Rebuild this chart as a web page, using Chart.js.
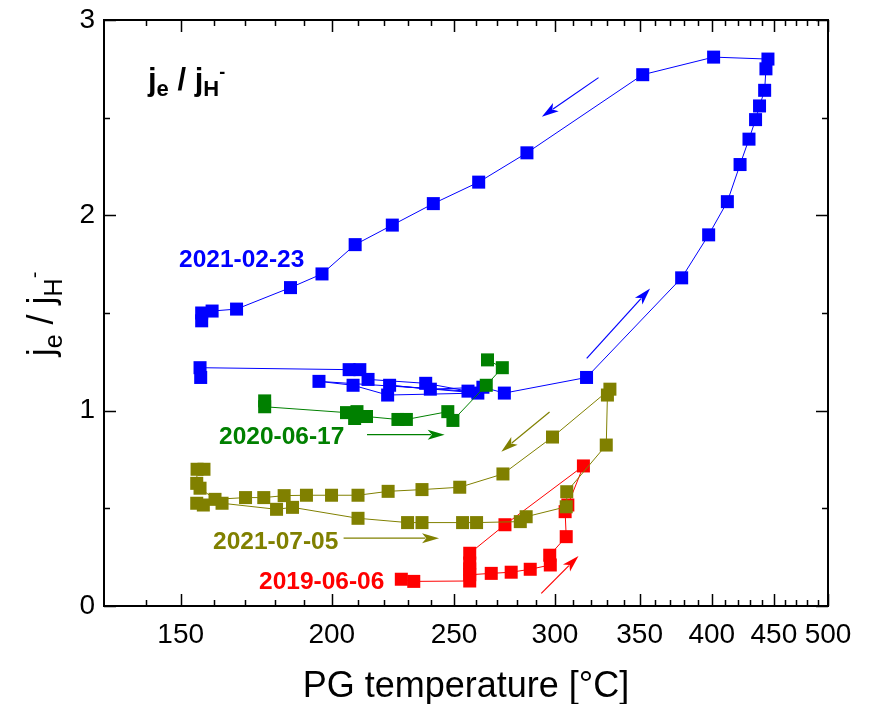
<!DOCTYPE html>
<html>
<head>
<meta charset="utf-8">
<script src="https://cdn.jsdelivr.net/npm/chart.js@4"></script>
<style>
  html, body { margin: 0; padding: 0; background: #fff; }
</style>
</head>
<body>
<canvas id="chart" width="874" height="704"></canvas>
<script>
// series data: PG temperature in °C and j_e / j_H- ratio
const seriesNames = ["2020-06-17", "2021-02-23", "2021-07-05", "2019-06-06"];
const seriesColors = ["#008000", "#0000ff", "#808000", "#ff0000"];

const tempGreen = [176.4, 176.4, 205.5, 209.5, 208.6, 213.2, 225.8, 229.3, 247.2, 249.5, 265.0, 272.8, 265.6];
const ratioGreen = [1.05, 1.02, 0.99, 0.995, 0.96, 0.97, 0.955, 0.955, 0.995, 0.95, 1.13, 1.22, 1.26];

const tempBlue = [156.0, 155.8, 206.5, 210.6, 213.8, 237.5, 256.4, 195.3, 208.0, 221.6, 261.0, 222.4, 239.5,
  263.4, 273.8, 317.7, 378.2, 397.7, 411.9, 421.9, 429.1, 434.5, 437.8, 442.1, 443.2, 444.9, 401.4,
  352.0, 285.2, 261.4, 240.8, 223.5, 208.8, 196.4, 185.2, 167.2, 159.5, 156.3, 156.3];
const ratioBlue = [1.17, 1.22, 1.21, 1.21, 1.16, 1.14, 1.10, 1.15, 1.13, 1.08, 1.09, 1.13, 1.11,
  1.12, 1.09, 1.17, 1.68, 1.90, 2.07, 2.26, 2.39, 2.49, 2.56, 2.64, 2.75, 2.80, 2.81,
  2.72, 2.32, 2.17, 2.06, 1.95, 1.85, 1.70, 1.63, 1.52, 1.51, 1.50, 1.46];

const tempOlive = [154.8, 156.8, 162.6, 180.4, 185.9, 209.9, 229.8, 235.9, 253.9, 260.4, 281.8, 284.8, 306.2,
  306.5, 329.3, 330.0, 331.5, 298.7, 273.1, 252.6, 235.9, 221.8, 209.9, 199.9, 190.8, 183.0, 176.1,
  170.1, 160.4, 155.8, 154.8, 154.9, 157.0];
const ratioOlive = [0.526, 0.517, 0.526, 0.495, 0.505, 0.449, 0.427, 0.427, 0.427, 0.427, 0.432, 0.457, 0.508,
  0.585, 0.824, 1.08, 1.11, 0.865, 0.676, 0.608, 0.596, 0.587, 0.567, 0.567, 0.567, 0.565, 0.555,
  0.555, 0.546, 0.603, 0.628, 0.70, 0.70];

const tempRed = [227.2, 232.4, 257.2, 257.2, 267.4, 277.2, 286.9, 297.5, 297.2, 306.2, 305.6, 307.1, 315.9,
  274.1, 257.2, 257.2, 257.2];
const ratioRed = [0.137, 0.126, 0.128, 0.16, 0.167, 0.173, 0.188, 0.21, 0.26, 0.355, 0.483, 0.517, 0.717,
  0.416, 0.27, 0.22, 0.19];

const xTickTemps = [150, 200, 250, 300, 350, 400, 450, 500];
const xMinorTemps = [140, 160, 170, 180, 190, 210, 220, 230, 240, 260, 270, 280, 290, 310, 320, 330, 340,
  360, 370, 380, 390, 410, 420, 430, 440, 460, 470, 480, 490];
const yTicks = [0, 1, 2, 3];
const yMinorTicks = [0.5, 1.5, 2.5];

// direction arrows: [tail T, tail ratio, head T, head ratio]
const arrowsBlue = [[324.7, 2.705, 293.0, 2.505], [317.8, 1.268, 356.8, 1.625]];
const arrowsGreen = [[213.4, 0.877, 245.8, 0.877]];
const arrowsOlive = [[297.1, 0.993, 272.3, 0.790], [204.4, 0.347, 243.3, 0.347]];
const arrowsRed = [[292.7, 0.065, 313.1, 0.256]];
const seriesArrows = [arrowsGreen, arrowsBlue, arrowsOlive, arrowsRed];

// x axis is reciprocal temperature (1000/K)
const toX = (t) => 1000 / (t + 273.15);
const fromX = (v) => 1000 / v - 273.15;

const FONT = "'Liberation Sans', Arial, sans-serif";

const makeSet = (i, temps, ratios) => ({
  label: seriesNames[i],
  data: temps.map((t, k) => ({ x: toX(t), y: ratios[k] })),
  borderColor: seriesColors[i],
  backgroundColor: seriesColors[i],
  borderWidth: 1,
  showLine: true,
  pointStyle: "rect",
  pointRadius: 9.2,
  pointHoverRadius: 9.2,
  pointBorderWidth: 0,
});

const drawRich = (ctx, parts, x, y) => {
  let cx = x;
  parts.forEach((p) => {
    ctx.font = p.font;
    ctx.fillText(p.t, cx, y + (p.dy || 0));
    cx += ctx.measureText(p.t).width;
  });
  return cx - x;
};

const richWidth = (ctx, parts) => {
  let w = 0;
  parts.forEach((p) => { ctx.font = p.font; w += ctx.measureText(p.t).width; });
  return w;
};

const drawArrow = (ctx, x1, y1, x2, y2, color) => {
  const ang = Math.atan2(y2 - y1, x2 - x1);
  const len = 17, hw = 5;
  ctx.strokeStyle = color;
  ctx.fillStyle = color;
  ctx.lineWidth = 1.2;
  ctx.beginPath();
  ctx.moveTo(x1, y1);
  ctx.lineTo(x2 - Math.cos(ang) * len * 0.8, y2 - Math.sin(ang) * len * 0.8);
  ctx.stroke();
  ctx.beginPath();
  ctx.moveTo(x2, y2);
  ctx.lineTo(x2 - Math.cos(ang) * len - Math.sin(ang) * hw, y2 - Math.sin(ang) * len + Math.cos(ang) * hw);
  ctx.lineTo(x2 - Math.cos(ang) * len * 0.75, y2 - Math.sin(ang) * len * 0.75);
  ctx.lineTo(x2 - Math.cos(ang) * len + Math.sin(ang) * hw, y2 - Math.sin(ang) * len - Math.cos(ang) * hw);
  ctx.closePath();
  ctx.fill();
};

const decorations = {
  id: "decorations",
  afterDatasetsDraw(chart) {
    const { ctx, chartArea: a, scales } = chart;
    const sx = scales.x, sy = scales.y;
    ctx.save();

    // arrows
    seriesArrows.forEach((list, i) => {
      list.forEach((ar) => {
        drawArrow(ctx, sx.getPixelForValue(toX(ar[0])), sy.getPixelForValue(ar[1]),
          sx.getPixelForValue(toX(ar[2])), sy.getPixelForValue(ar[3]), seriesColors[i]);
      });
    });

    // frame and ticks on all four sides
    ctx.strokeStyle = "#000";
    ctx.lineWidth = 2;
    ctx.strokeRect(a.left, a.top, a.right - a.left, a.bottom - a.top);
    ctx.lineWidth = 1.5;
    ctx.beginPath();
    const xTick = (t, len) => {
      const px = Math.round(sx.getPixelForValue(toX(t))) + 0.5;
      ctx.moveTo(px, a.bottom); ctx.lineTo(px, a.bottom - len);
      ctx.moveTo(px, a.top); ctx.lineTo(px, a.top + len);
    };
    const yTick = (v, len) => {
      const py = Math.round(sy.getPixelForValue(v)) + 0.5;
      ctx.moveTo(a.left, py); ctx.lineTo(a.left + len, py);
      ctx.moveTo(a.right, py); ctx.lineTo(a.right - len, py);
    };
    xTickTemps.forEach((t) => xTick(t, 12));
    xMinorTemps.forEach((t) => xTick(t, 6));
    yTicks.forEach((v) => yTick(v, 12));
    yMinorTicks.forEach((v) => yTick(v, 6));
    ctx.stroke();

    // series labels
    ctx.textAlign = "left";
    ctx.textBaseline = "alphabetic";
    const labelPos = [[219, 444], [179, 267], [213, 549], [259, 589]];
    ctx.font = "bold 24.5px " + FONT;
    seriesNames.forEach((name, i) => {
      ctx.fillStyle = seriesColors[i];
      ctx.fillText(name, labelPos[i][0], labelPos[i][1]);
    });

    // inner title
    ctx.fillStyle = "#000";
    drawRich(ctx, [
      { t: "j", font: "bold 31px " + FONT },
      { t: "e", font: "bold 22px " + FONT, dy: 6 },
      { t: " / j", font: "bold 31px " + FONT },
      { t: "H", font: "bold 22px " + FONT, dy: 6 },
      { t: "-", font: "bold 18px " + FONT, dy: -12 },
    ], 148, 90);

    // x axis title
    ctx.font = "36px " + FONT;
    ctx.textAlign = "center";
    ctx.fillText("PG temperature [°C]", (a.left + a.right) / 2, 697);

    // y axis title (rotated)
    const yParts = [
      { t: "j", font: "36px " + FONT },
      { t: "e", font: "25px " + FONT, dy: 9 },
      { t: " / j", font: "36px " + FONT },
      { t: "H", font: "25px " + FONT, dy: 9 },
      { t: "-", font: "20px " + FONT, dy: -12 },
    ];
    ctx.textAlign = "left";
    const w = richWidth(ctx, yParts);
    ctx.translate(53, 314);
    ctx.rotate(-Math.PI / 2);
    drawRich(ctx, yParts, -w / 2, 0);

    ctx.restore();
  },
};

new Chart(document.getElementById("chart"), {
  type: "scatter",
  data: {
    datasets: [
      makeSet(0, tempGreen, ratioGreen),
      makeSet(1, tempBlue, ratioBlue),
      makeSet(2, tempOlive, ratioOlive),
      makeSet(3, tempRed, ratioRed),
    ],
  },
  options: {
    responsive: false,
    animation: false,
    layout: { padding: { left: 0, right: 46, top: 20, bottom: 0 } },
    plugins: { legend: { display: false }, tooltip: { enabled: false } },
    scales: {
      x: {
        type: "linear",
        reverse: true,
        min: toX(500),
        max: 2.49,
        afterBuildTicks: (s) => { s.ticks = xTickTemps.map((t) => ({ value: toX(t) })); },
        afterFit: (s) => { s.height = 98; },
        grid: { display: false, drawTicks: false },
        border: { display: false },
        ticks: {
          callback: (v) => Math.round(fromX(v)),
          font: { family: FONT, size: 28 },
          color: "#000",
          padding: 12,
          maxRotation: 0,
          autoSkip: false,
        },
      },
      y: {
        min: 0,
        max: 3,
        afterBuildTicks: (s) => { s.ticks = yTicks.map((v) => ({ value: v })); },
        afterFit: (s) => {
          s.width = 104;
          s.paddingTop = 0;
          s.paddingBottom = 0;
        },
        grid: { display: false, drawTicks: false },
        border: { display: false },
        ticks: {
          font: { family: FONT, size: 28 },
          color: "#000",
          padding: 9,
        },
      },
    },
  },
  plugins: [decorations],
});
</script>
</body>
</html>
